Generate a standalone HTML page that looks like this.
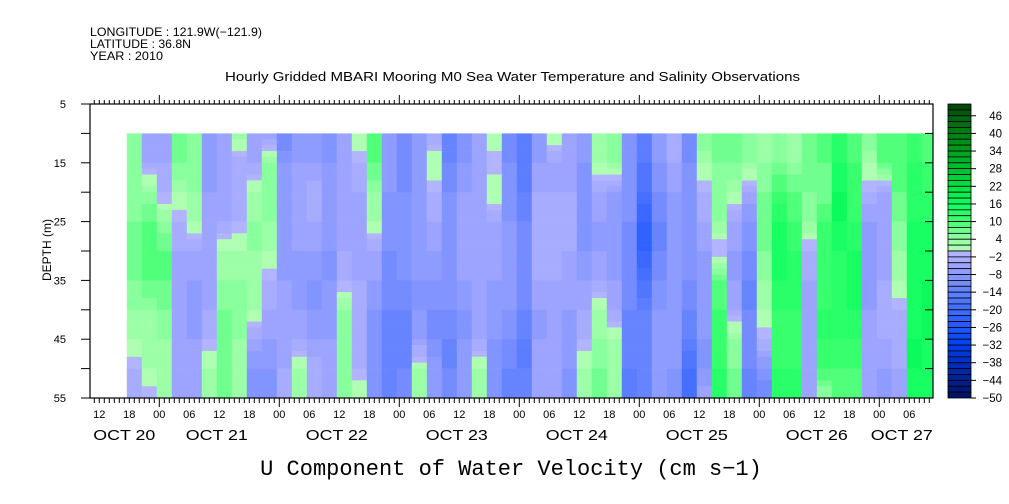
<!DOCTYPE html>
<html><head><meta charset="utf-8"><style>
html,body{margin:0;padding:0;background:#fff;}
svg{display:block;font-family:"Liberation Sans",sans-serif;}
</style></head><body>
<svg id="chart" width="1009" height="504" viewBox="0 0 1009 504">
<g font-size="12" fill="#000">
<text x="90" y="36" textLength="172" lengthAdjust="spacingAndGlyphs">LONGITUDE : 121.9W(−121.9)</text>
<text x="90" y="48" textLength="101" lengthAdjust="spacingAndGlyphs">LATITUDE : 36.8N</text>
<text x="90" y="60" textLength="73" lengthAdjust="spacingAndGlyphs">YEAR : 2010</text>
</g>
<text x="225" y="81" textLength="575" lengthAdjust="spacingAndGlyphs" font-size="13">Hourly Gridded MBARI Mooring M0 Sea Water Temperature and Salinity Observations</text>
<g id="cells"></g>
<g id="axes"></g>
<g id="cbar"></g>
<text transform="translate(51,250) rotate(-90)" text-anchor="middle" font-size="12"><tspan x="0" y="0">DEPTH (m)</tspan></text>
<text x="511" y="475" text-anchor="middle" font-family="Liberation Mono, monospace" font-size="22">U Component of Water Velocity (cm s−1)</text>
</svg>
<script>
// depth samples (m)
const depths=[10,15,20,25,30,35,40,45,50,55];
// start hour of each 3-hour column (hours since Oct 21 00:00)
const colStartHour=-6.5;
const colHours=3;
// u velocity (cm/s), one row per column, values at each depth
const uValues=[
[4,4,4,6,8,6,4,2,-2,-2],
[-6,-4,4,8,10,8,4,2,2,-2],
[-6,-4,-2,4,8,8,6,4,2,4],
[8,6,2,-2,-4,-4,-6,-4,-4,-4],
[6,4,4,2,-4,-6,-6,-6,-4,-4],
[-6,-6,-6,-4,-4,-4,-4,-2,2,4],
[-4,-4,-4,-4,2,4,6,6,6,6],
[4,-4,-2,-2,2,4,4,4,2,2],
[-6,-4,2,4,4,2,2,-4,-8,-10],
[-6,4,4,4,2,-2,-4,-6,-8,-8],
[-12,-8,-6,-6,-6,-6,-4,-4,-4,-2],
[-8,-6,-4,-4,-6,-6,-6,-4,2,2],
[-8,-6,-2,-4,-6,-8,-8,-6,-2,-4],
[-10,-8,-6,-6,-8,-8,-6,-6,-4,-4],
[-6,-4,-4,-4,-4,-2,4,4,4,4],
[2,-2,-4,-4,-4,-4,-2,-2,-2,2],
[10,8,4,2,-4,-6,-8,-8,-8,-8],
[-6,-6,-8,-8,-10,-10,-12,-12,-12,-12],
[-12,-10,-10,-8,-8,-10,-12,-12,-12,-10],
[-6,-6,-6,-6,-6,-8,-8,-6,2,2],
[-4,2,-2,-4,-6,-8,-10,-10,-6,-6],
[-12,-12,-10,-8,-8,-8,-10,-12,-12,-10],
[-10,-8,-6,-4,-4,-6,-8,-8,-6,-6],
[-4,-4,-4,-4,-4,-4,-6,-4,2,4],
[2,-2,2,-4,-4,-6,-6,-8,-8,-8],
[-10,-10,-8,-8,-6,-6,-8,-10,-12,-12],
[-14,-14,-14,-12,-10,-10,-12,-14,-14,-12],
[-6,-6,-4,-2,-2,-4,-6,-6,-4,-4],
[2,-4,-4,-2,-2,-4,-4,-6,-4,-6],
[-6,-4,-4,-2,-4,-4,-6,-6,-8,-8],
[-6,-8,-8,-8,-8,-6,-4,-2,2,4],
[4,2,-4,-6,-6,-4,2,4,6,8],
[6,4,-6,-6,-6,-6,-4,2,4,2],
[-8,-8,-8,-10,-10,-10,-12,-12,-14,-16],
[-14,-16,-18,-22,-22,-18,-14,-12,-12,-12],
[-6,-8,-10,-12,-12,-10,-8,-6,-6,-8],
[-2,-4,-6,-6,-6,-6,-6,-6,-8,-10],
[-10,-10,-8,-8,-8,-10,-12,-14,-18,-18],
[6,2,-2,-4,-6,-6,-6,-8,-8,-4],
[8,6,4,4,-2,8,10,10,12,12],
[6,6,2,-4,-6,-6,-4,4,6,8],
[4,4,-4,-8,-10,-12,-12,-10,-12,-14],
[2,4,6,8,6,4,2,-2,-8,-12],
[4,6,10,14,16,14,12,10,12,12],
[2,4,8,10,12,12,12,10,12,12],
[6,6,6,4,-2,-4,-4,-4,-4,-6],
[10,8,6,10,10,10,12,12,10,4],
[12,14,16,16,14,12,14,12,10,8],
[8,10,10,12,14,14,14,12,10,8],
[6,2,-2,-6,-8,-6,-6,-4,-4,-6],
[10,8,-4,-6,-4,-4,-2,-4,-6,-8],
[10,8,8,6,4,2,-2,-2,-4,-4],
[10,12,12,14,14,14,14,16,16,14],
[8,10,12,14,14,16,16,16,14,14]
];
const yTicks=[5,15,25,35,45,55];
const hourLabels=["12","18","00","06","12","18","00","06","12","18","00","06","12","18","00","06","12","18","00","06","12","18","00","06","12","18","00","06"];
const hourLabelStart=-12;
const dateLabels=["OCT 20","OCT 21","OCT 22","OCT 23","OCT 24","OCT 25","OCT 26","OCT 27"];
const dateLabelHours=[-7,11.5,35.5,59.5,83.5,107.5,131.5,148.5];
const cbarLabels=[46,40,34,28,22,16,10,4,-2,-8,-14,-20,-26,-32,-38,-44,-50];

const NS="http://www.w3.org/2000/svg";
const X0=90,X1=933,Y0=104,Y1=398;
const xH=h=>159.3+5*h;
const yD=d=>Y0+(d-5)*(Y1-Y0)/50;
function el(t,a,p){const e=document.createElementNS(NS,t);for(const k in a)e.setAttribute(k,a[k]);p.appendChild(e);return e;}
const negStops=[[0,[184,184,255]],[6,[150,160,255]],[14,[96,128,255]],[26,[32,88,255]],[32,[0,64,240]],[38,[0,48,192]],[44,[0,32,144]],[50,[0,16,96]]];
const posStops=[[0,[184,255,184]],[6,[128,255,152]],[10,[64,255,112]],[16,[16,255,96]],[22,[0,224,64]],[28,[0,192,48]],[34,[0,160,32]],[40,[0,128,16]],[46,[0,96,16]],[50,[0,64,8]]];
function color(v){
  v=Math.max(-50,Math.min(50,v));
  let m=v>=0?Math.floor(v/2)*2+1:Math.ceil(v/2)*2-1;
  const s=m>=0?posStops:negStops;const a=Math.abs(m);
  for(let i=1;i<s.length;i++){if(a<=s[i][0]){const t=(a-s[i-1][0])/(s[i][0]-s[i-1][0]);const c=s[i-1][1].map((q,j)=>Math.round(q+(s[i][1][j]-q)*t));return `rgb(${c})`;}}
  return `rgb(${s[s.length-1][1]})`;
}
const cg=document.getElementById('cells');
uValues.forEach((col,i)=>{
  const xa=Math.max(X0,xH(colStartHour+i*colHours)),xb=Math.min(X1,xH(colStartHour+(i+1)*colHours));
  if(xb<=xa)return;
  for(let d=10;d<55;d++){
    const dm=d+0.5;let k=Math.min(depths.length-2,Math.floor((dm-depths[0])/5));
    const t=(dm-depths[k])/(depths[k+1]-depths[k]);
    const v=col[k]+(col[k+1]-col[k])*t;
    const r=el('rect',{x:xa,y:yD(d),width:xb-xa+0.3,height:yD(d+1)-yD(d)+0.3,fill:color(v)},cg);
    
    
  }
});
const ag=document.getElementById('axes');
const frame=el('rect',{x:X0,y:Y0,width:X1-X0,height:Y1-Y0,fill:'none',stroke:'#000','stroke-width':1.2},ag);


for(let h=-13;h<=154;h++){
  const x=xH(h);if(x<X0||x>X1)continue;
  const major=((h%24)+24)%24===0;
  el('line',{x1:x,y1:Y0,x2:x,y2:Y0-(major?9:4),stroke:'#000'},ag);
  el('line',{x1:x,y1:Y1,x2:x,y2:Y1+(major?9:5),stroke:'#000'},ag);
}
yTicks.forEach(d=>{
  const y=yD(d);
  const t=el('text',{x:66,y:y+4,'text-anchor':'end','font-size':11},ag);t.textContent=d;
  
  
});
for(let d=5;d<=55;d+=5){const y=yD(d);el('line',{x1:X0-9,y1:y,x2:X0,y2:y,stroke:'#000'},ag);el('line',{x1:X1-8,y1:y,x2:X1,y2:y,stroke:'#000'},ag);}
hourLabels.forEach((l,i)=>{
  const t=el('text',{x:xH(hourLabelStart+6*i),y:418,'text-anchor':'middle','font-size':11},ag);t.textContent=l;
  
  
});
dateLabels.forEach((l,i)=>{
  const t=el('text',{x:xH(dateLabelHours[i]),y:440,'text-anchor':'middle','font-size':15,textLength:62,lengthAdjust:'spacingAndGlyphs'},ag);t.textContent=l;
  
  
});
const bg=document.getElementById('cbar');
const bh=(Y1-Y0)/50;
for(let k=0;k<50;k++){
  const v=48-2*k;
  const r=el('rect',{x:948,y:Y0+k*bh,width:23,height:bh,fill:color(v+1),stroke:'#000','stroke-width':0.8},bg);
  
  
}
cbarLabels.forEach(v=>{
  const y=Y0+(50-v)/2*bh;
  el('line',{x1:971,y1:y,x2:976,y2:y,stroke:'#000'},bg);
  const t=el('text',{x:1002,y:y+4,'text-anchor':'end','font-size':11.5},bg);t.textContent=v<0?'−'+(-v):v;
  
  
});
</script>
</body></html>
